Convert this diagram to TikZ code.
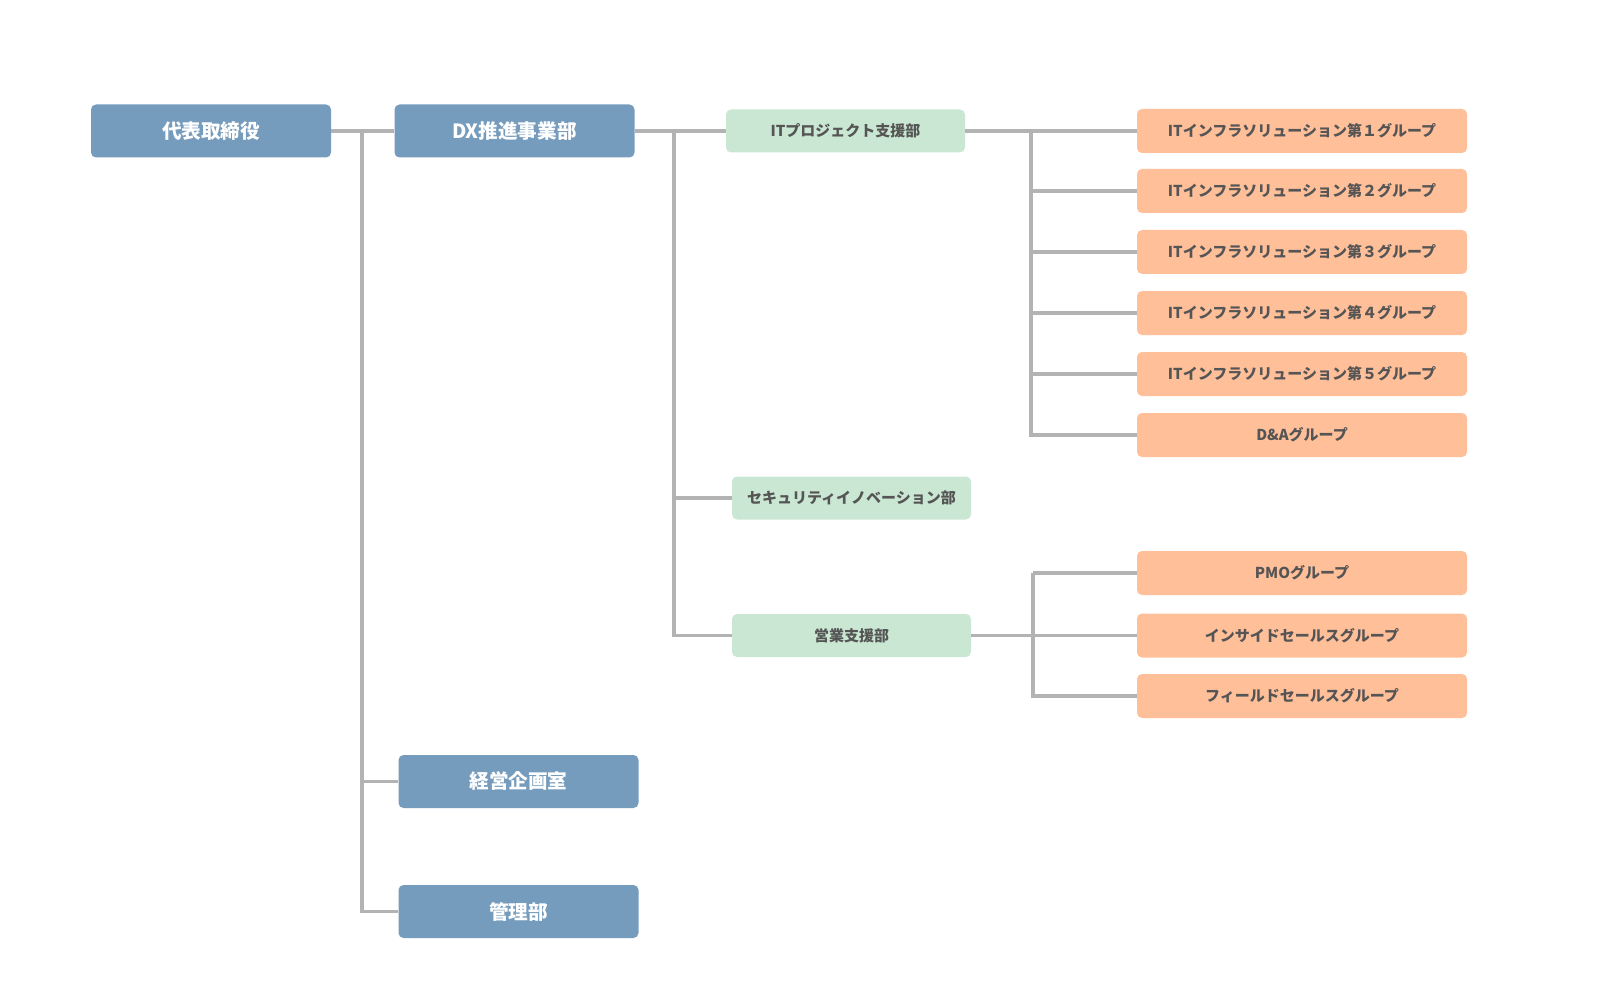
\documentclass[tikz,border=0pt]{standalone}
\usepackage{fontspec}
\setmainfont{Noto Sans CJK JP}
\definecolor{topblue}{HTML}{769CBD}
\definecolor{deptgreen}{HTML}{C9E7D2}
\definecolor{grporange}{HTML}{FFBF99}
\definecolor{linegray}{HTML}{B3B3B3}
\definecolor{txtgray}{HTML}{555555}
\begin{document}
\begin{tikzpicture}[x=0.5pt,y=-0.5pt,
  topbox/.style={rectangle,rounded corners=2.5pt,fill=topblue,draw=none,minimum width=120pt,minimum height=26.5pt,inner sep=0pt,font=\fontsize{9.8}{11}\selectfont\bfseries,text=white},
  deptbox/.style={rectangle,rounded corners=2.5pt,fill=deptgreen,draw=none,minimum width=119.5pt,minimum height=21.5pt,inner sep=0pt,font=\fontsize{7.5}{9}\selectfont\bfseries,text=txtgray},
  grpbox/.style={rectangle,rounded corners=2.5pt,fill=grporange,draw=none,minimum width=165pt,minimum height=22pt,inner sep=0pt,font=\fontsize{7.5}{9}\selectfont\bfseries,text=txtgray},
  conn/.style={draw=linegray,line width=1.6pt}]
\useasboundingbox (0,0) rectangle (1600,1000);
% top level
\node[topbox] (ceo) at (211,131) {代表取締役};
\node[topbox] (dx) at (514.5,131) {DX推進事業部};
\node[topbox] (keiei) at (518.5,781.5) {経営企画室};
\node[topbox] (kanri) at (518.5,911.5) {管理部};
% departments
\node[deptbox] (itp) at (845.5,131) {ITプロジェクト支援部};
\node[deptbox] (sec) at (851.5,498) {セキュリティイノベーション部};
\node[deptbox] (eigyo) at (851.5,635.5) {営業支援部};
% groups
\node[grpbox] (g1) at (1302,131) {ITインフラソリューション第１グループ};
\node[grpbox] (g2) at (1302,191) {ITインフラソリューション第２グループ};
\node[grpbox] (g3) at (1302,252) {ITインフラソリューション第３グループ};
\node[grpbox] (g4) at (1302,313) {ITインフラソリューション第４グループ};
\node[grpbox] (g5) at (1302,374) {ITインフラソリューション第５グループ};
\node[grpbox] (g6) at (1302,435) {D\&Aグループ};
\node[grpbox] (g7) at (1302,573) {PMOグループ};
\node[grpbox] (g8) at (1302,635.5) {インサイドセールスグループ};
\node[grpbox] (g9) at (1302,696) {フィールドセールスグループ};
% junctions
\coordinate (j1) at (362,131);
\coordinate (j2) at (674,131);
\coordinate (j3) at (1031,131);
\coordinate (j4) at (1033,635.5);
% connectors
\draw[conn] (ceo.east) -- (dx.west);
\draw[conn] (j1) |- (kanri.west);
\draw[conn] (j1 |- keiei.west) -- (keiei.west);
\draw[conn] (dx.east) -- (itp.west);
\draw[conn] (j2) |- (eigyo.west);
\draw[conn] (j2 |- sec.west) -- (sec.west);
\draw[conn] (itp.east) -- (g1.west);
\draw[conn] (j3) |- (g6.west);
\draw[conn] (j3 |- g2.west) -- (g2.west);
\draw[conn] (j3 |- g3.west) -- (g3.west);
\draw[conn] (j3 |- g4.west) -- (g4.west);
\draw[conn] (j3 |- g5.west) -- (g5.west);
\draw[conn] (eigyo.east) -- (g8.west);
\draw[conn] (j4 |- g7.west) -- (g7.west);
\draw[conn] (j4 |- g7.west) |- (g9.west);
\end{tikzpicture}
\end{document}
